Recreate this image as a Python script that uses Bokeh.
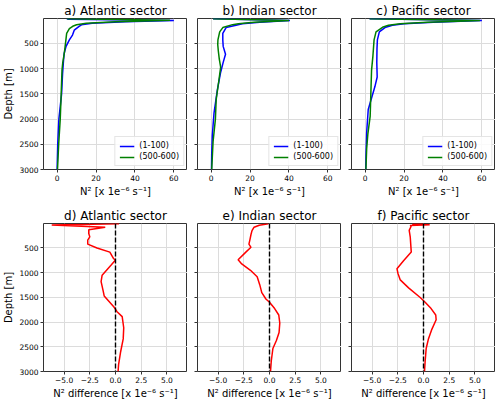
from bokeh.plotting import figure
from bokeh.layouts import column, row
from bokeh.models import Range1d, FixedTicker, Span, Legend, LegendItem
from bokeh.embed import file_html
from bokeh.resources import INLINE

FONT = "DejaVu Sans"

# ---------------- data ----------------
# Upper panels: N^2 profiles [x 1e-6 s^-1] vs depth [m]
atl_d1 = [10, 20, 45, 70, 100, 130, 160, 237, 333, 430, 558, 700, 880, 1100, 1500, 2000, 2500, 3000]
atl_n1 = [5.0, 6.0, 60.0, 35.0, 18.0, 12.5, 11.3, 8.8, 7.9, 6.3, 4.6, 3.6, 3.2, 2.8, 2.3, 0.9, 0.3, 0.0]
atl_d2 = [10, 40, 70, 100, 130, 160, 205, 300, 500, 690, 880, 1035, 1600, 2000, 2500, 3000]
atl_n2 = [5.0, 58.0, 30.0, 15.0, 10.0, 8.0, 6.3, 4.9, 4.3, 3.7, 2.9, 2.5, 2.0, 1.6, 0.8, 0.2]

ind_d1 = [10, 45, 80, 110, 140, 185, 300, 430, 558, 715, 875, 1070, 1420, 1875, 2325, 2710, 3000]
ind_n1 = [1.0, 40.5, 25.0, 16.0, 12.8, 7.7, 6.0, 6.0, 6.2, 7.4, 6.2, 4.9, 3.2, 1.5, 0.6, 0.3, 0.2]
ind_d2 = [10, 45, 80, 110, 127, 185, 270, 430, 520, 650, 810, 970, 1230, 1615, 2000, 2450, 3000]
ind_n2 = [1.0, 40.0, 22.0, 14.0, 11.0, 6.0, 4.4, 3.5, 3.4, 3.7, 4.2, 4.9, 4.0, 2.6, 2.2, 1.0, 0.3]

pac_d1 = [10, 45, 80, 110, 140, 185, 270, 430, 600, 880, 1165, 1360, 1810, 2260, 2650, 3000]
pac_n1 = [2.3, 60.0, 35.0, 20.0, 14.0, 10.2, 7.3, 6.3, 6.1, 6.0, 6.2, 5.0, 1.6, 0.8, 0.5, 0.3]
pac_d2 = [10, 45, 80, 110, 140, 172, 270, 430, 750, 1035, 1550, 1940, 2300, 2585, 3000]
pac_n2 = [2.3, 59.0, 32.0, 18.0, 12.0, 9.3, 5.6, 4.6, 4.0, 3.3, 2.9, 2.6, 1.4, 0.8, 0.4]

# Lower panels: N^2 difference [x 1e-6 s^-1] vs depth [m]
atl_dd = [10, 35, 80, 132, 210, 275, 340, 423, 500, 584, 713, 745, 842, 1050, 1180, 1370, 1470, 1695, 1790, 1890, 2115, 2340, 2600, 2860, 3000]
atl_dn = [0.35, -6.2, -1.0, -2.6, -2.6, -2.5, -2.7, -2.7, -1.8, -0.55, -0.2, 0.0, -0.4, -1.3, -1.4, -1.2, -1.1, -0.15, 0.15, 0.65, 0.8, 0.75, 0.5, 0.3, 0.25]

ind_dd = [10, 40, 80, 150, 228, 330, 422, 487, 584, 740, 823, 952, 1081, 1243, 1405, 1533, 1598, 1727, 1857, 2018, 2212, 2374, 2535, 2793, 3000]
ind_dn = [-0.1, -1.0, -1.5, -1.7, -1.8, -1.9, -2.0, -1.8, -2.3, -3.05, -2.7, -1.85, -1.2, -0.95, -0.75, -0.35, 0.0, 0.5, 0.9, 1.0, 0.93, 0.67, 0.33, 0.17, 0.1]

pac_dd = [10, 20, 30, 45, 60, 145, 274, 584, 758, 920, 1017, 1146, 1308, 1502, 1598, 1727, 1857, 1953, 2147, 2341, 2535, 2793, 3000]
pac_dn = [0.0, -1.1, 0.6, -1.3, -1.2, -1.39, -1.29, -1.19, -1.94, -2.58, -2.48, -2.26, -1.45, -0.32, 0.16, 0.74, 1.19, 1.23, 0.81, 0.48, 0.26, 0.16, 0.1]

top_titles = ["a) Atlantic sector", "b) Indian sector", "c) Pacific sector"]
bottom_titles = ["d) Atlantic sector", "e) Indian sector", "f) Pacific sector"]
legend_labels = ["(1-100)", "(500-600)"]
top_xticks = [0, 20, 40, 60]
bottom_xticks = [-5, -2.5, 0, 2.5, 5]
bottom_xtick_labels = ["\u22125.0", "\u22122.5", "0.0", "2.5", "5.0"]
depth_ticks = [500, 1000, 1500, 2000, 2500, 3000]
zero_line = 0

top_xlabel = "N\u00b2 [x 1e\u207b\u2076 s\u207b\u00b9]"
bottom_xlabel = "N\u00b2 difference [x 1e\u207b\u2076 s\u207b\u00b9]"
ylabel = "Depth [m]"

FRAME_W = 144


def make_fig(title, first, xr, xticks, frame_h, mb_bottom):
    p = figure(frame_width=FRAME_W, frame_height=frame_h,
               x_range=Range1d(*xr), y_range=Range1d(3000, 5),
               output_backend="svg", toolbar_location=None,
               min_border_left=32 if first else 10, min_border_right=0,
               min_border_top=0, min_border_bottom=mb_bottom)
    p.title.text = title
    p.title.text_font = FONT
    p.title.text_font_size = "12px"
    p.title.text_font_style = "normal"
    p.title.align = "center"
    p.title.standoff = 2
    p.title.text_color = "black"
    p.outline_line_color = "#333333"
    p.outline_line_width = 1
    p.background_fill_color = "white"
    p.border_fill_color = "white"
    for ax in (p.xaxis, p.yaxis):
        ax.axis_line_color = None
        ax.major_tick_out = 3
        ax.major_tick_in = 0
        ax.minor_tick_out = 0
        ax.minor_tick_in = 0
        ax.major_tick_line_color = "#333333"
        ax.major_label_text_font = FONT
        ax.major_label_text_font_size = "7.5px"
        ax.major_label_text_color = "black"
        ax.major_label_standoff = 2
        ax.axis_label_text_font = FONT
        ax.axis_label_text_font_size = "10px"
        ax.axis_label_text_font_style = "normal"
        ax.axis_label_text_color = "black"
        ax.axis_label_standoff = 2
    p.xaxis.ticker = FixedTicker(ticks=xticks)
    p.yaxis.ticker = FixedTicker(ticks=depth_ticks)
    if not first:
        p.yaxis.major_label_overrides = {t: "" for t in depth_ticks}
    else:
        p.yaxis.axis_label = ylabel
    for g in (p.xgrid, p.ygrid):
        g.grid_line_color = "#dcdcdc"
        g.grid_line_width = 1
    return p


top_data = [(atl_d1, atl_n1, atl_d2, atl_n2),
            (ind_d1, ind_n1, ind_d2, ind_n2),
            (pac_d1, pac_n1, pac_d2, pac_n2)]
bottom_data = [(atl_dd, atl_dn), (ind_dd, ind_dn), (pac_dd, pac_dn)]

top_figs = []
for i, (d1, n1, d2, n2) in enumerate(top_data):
    p = make_fig(top_titles[i], i == 0, (-7, 67), top_xticks, 151, 36)
    p.xaxis.axis_label = top_xlabel
    r1 = p.line(n1, d1, line_color="#0000ff", line_width=1.5)
    r2 = p.line(n2, d2, line_color="#008000", line_width=1.5)
    leg = Legend(items=[LegendItem(label=legend_labels[0], renderers=[r1]),
                        LegendItem(label=legend_labels[1], renderers=[r2])],
                 location="bottom_right")
    leg.label_text_font = FONT
    leg.label_text_font_size = "8px"
    leg.label_text_color = "black"
    leg.glyph_width = 15
    leg.glyph_height = 8
    leg.label_height = 8
    leg.label_standoff = 5
    leg.spacing = 2
    leg.padding = 4
    leg.margin = 3
    leg.border_line_color = "#cccccc"
    leg.border_line_width = 1
    leg.background_fill_alpha = 0.85
    p.add_layout(leg)
    top_figs.append(p)

bottom_figs = []
for i, (dd, dn) in enumerate(bottom_data):
    p = make_fig(bottom_titles[i], i == 0, (-7, 7), bottom_xticks, 148, 0)
    p.xaxis.axis_label = bottom_xlabel
    p.xaxis.major_label_overrides = {t: lab for t, lab in zip(bottom_xticks, bottom_xtick_labels)}
    p.line(dn, dd, line_color="#ff0000", line_width=1.5)
    p.add_layout(Span(location=zero_line, dimension="height", line_color="black",
                      line_dash="5 2", line_width=1.4))
    bottom_figs.append(p)

layout = column(row(*top_figs, spacing=0), row(*bottom_figs, spacing=0), spacing=0)

with open("out.html", "w") as f:
    f.write(file_html(layout, INLINE))
